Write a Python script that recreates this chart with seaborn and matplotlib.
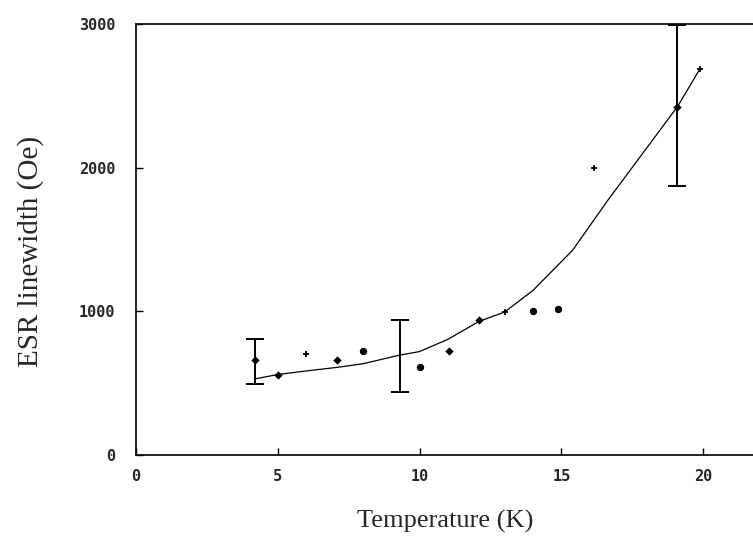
import matplotlib
matplotlib.use("Agg")
import matplotlib.pyplot as plt
import seaborn as sns
import pandas as pd

# Measured ESR linewidth versus temperature
temp_K = [4.2, 5.0, 6.0, 7.1, 8.0, 10.0, 11.05, 12.1, 13.0, 14.0, 14.9, 16.15, 19.1, 19.9]
linewidth_Oe = [660, 560, 700, 660, 725, 615, 726, 940, 995, 1005, 1015, 2000, 2425, 2690]
marker_kind = ["diamond", "diamond", "plus", "diamond", "dot", "dot", "diamond",
               "diamond", "plus", "dot", "dot", "plus", "diamond", "plus"]

# Representative error bars
err_temp = [4.2, 9.3, 19.1]
err_low = [495, 440, 1870]
err_high = [805, 940, 2990]

# Fitted curve
fit_temp = [4.2, 5.0, 6.0, 7.1, 8.0, 9.3, 10.0, 11.0, 12.1, 13.0, 14.0, 15.4, 16.65, 19.1, 19.9]
fit_width = [530, 560, 585, 610, 635, 695, 720, 805, 930, 995, 1145, 1425, 1775, 2425, 2690]

x_ticks = [0, 5, 10, 15, 20]
y_ticks = [0, 1000, 2000, 3000]

sns.set_style("white")
plt.rcParams["font.family"] = ["DejaVu Sans"]

points = pd.DataFrame({"T": temp_K, "W": linewidth_Oe, "kind": marker_kind})
fit = pd.DataFrame({"T": fit_temp, "W": fit_width})

fig = plt.figure(figsize=(7.53, 5.38), dpi=100)
ax = fig.add_axes([136 / 753, 83 / 538, 617 / 753, 431 / 538])

sns.lineplot(data=fit, x="T", y="W", ax=ax, color="black", linewidth=0.9,
             sort=False, estimator=None)

# error bars
centers = [(lo + hi) / 2 for lo, hi in zip(err_low, err_high)]
halves = [(hi - lo) / 2 for lo, hi in zip(err_low, err_high)]
ax.errorbar(err_temp, centers, yerr=halves, fmt="none", ecolor="black",
            elinewidth=1.4, capsize=6.5, capthick=1.4, clip_on=False, zorder=3)

for kind, mk, size, lw in [("dot", "o", 28, 0), ("diamond", "D", 18, 0), ("plus", "+", 24, 1.3)]:
    sub = points[points["kind"] == kind]
    sns.scatterplot(data=sub, x="T", y="W", ax=ax, marker=mk, s=size, color="black",
                    edgecolor="black", linewidth=lw, zorder=4, legend=False)

ax.set_xlim(0, 617 / 28.35)
ax.set_ylim(0, 3000)
ax.set_xticks(x_ticks)
ax.set_yticks(y_ticks)
ax.set_xlabel("")
ax.set_ylabel("")

for side in ["top", "bottom", "left"]:
    ax.spines[side].set_visible(True)
    ax.spines[side].set_color("black")
    ax.spines[side].set_linewidth(1.2)
ax.spines["right"].set_visible(False)

ax.tick_params(axis="both", direction="in", length=5, width=1.0, color="black",
               bottom=True, left=True, top=False, right=False)
ax.tick_params(axis="x", pad=10)
ax.tick_params(axis="y", pad=15)
for lab in ax.get_xticklabels() + ax.get_yticklabels():
    lab.set_fontfamily("DejaVu Sans Mono")
    lab.set_fontweight("bold")
    lab.set_fontsize(11)

fig.text(31 / 753, 1 - 251 / 538, "ESR linewidth (Oe)", rotation=90, ha="center", va="center",
         family="Liberation Serif", fontsize=21)
fig.text(445 / 753, 1 - 510 / 538, "Temperature (K)", ha="center", va="top",
         family="Liberation Serif", fontsize=19)

fig.savefig("out.png", dpi=100)
